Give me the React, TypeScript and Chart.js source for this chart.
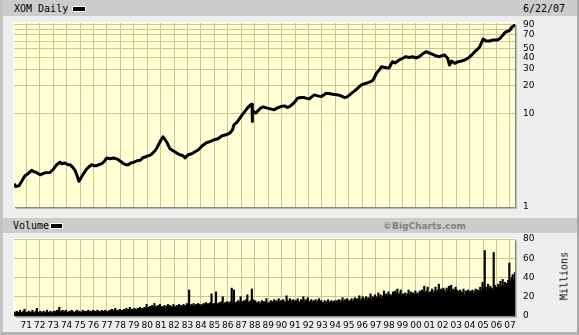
import React, { useEffect, useRef } from "react";
import { Chart, registerables } from "chart.js";

Chart.register(...registerables);

// ---- data ----
const PRICE_YEARS = [
  1970.09, 1970.23, 1970.46, 1970.68, 1970.9, 1971.13, 1971.4, 1971.57, 1971.77, 1972.02,
  1972.24, 1972.39, 1972.76, 1972.99, 1973.26, 1973.51, 1973.66, 1973.88, 1974.1, 1974.25,
  1974.48, 1974.63, 1974.78, 1974.92, 1975.13, 1975.3, 1975.5, 1975.67, 1975.87, 1976.04,
  1976.24, 1976.41, 1976.61, 1976.79, 1976.99, 1977.23, 1977.48, 1977.68, 1977.85, 1978.05,
  1978.22, 1978.42, 1978.59, 1978.8, 1978.97, 1979.24, 1979.47, 1979.69, 1979.96, 1980.21,
  1980.36, 1980.58, 1980.73, 1980.88, 1981.03, 1981.18, 1981.33, 1981.48, 1981.7, 1981.92,
  1982.2, 1982.44, 1982.67, 1982.82, 1983.04, 1983.32, 1983.56, 1983.81, 1984.1, 1984.4,
  1984.67, 1984.97, 1985.27, 1985.57, 1985.87, 1986.17, 1986.35, 1986.45, 1986.7, 1987.07,
  1987.3, 1987.45, 1987.69, 1987.8, 1987.81, 1987.84, 1988.07, 1988.44, 1988.64, 1988.94,
  1989.17, 1989.44, 1989.69, 1989.94, 1990.22, 1990.44, 1990.67, 1990.82, 1991.04, 1991.19,
  1991.44, 1991.69, 1991.87, 1992.07, 1992.24, 1992.44, 1992.69, 1992.94, 1993.15, 1993.32,
  1993.52, 1993.82, 1994.19, 1994.42, 1994.7, 1994.87, 1995.07, 1995.24, 1995.44, 1995.69,
  1995.94, 1996.14, 1996.44, 1996.59, 1996.82, 1997.06, 1997.27, 1997.44, 1997.81, 1998.0,
  1998.25, 1998.45, 1998.75, 1998.98, 1999.25, 1999.5, 1999.75, 2000.03, 2000.25, 2000.48,
  2000.75, 2001.0, 2001.25, 2001.53, 2001.75, 2001.98, 2002.13, 2002.35, 2002.5, 2002.65,
  2002.88, 2003.1, 2003.38, 2003.63, 2003.87, 2004.15, 2004.38, 2004.6, 2004.75, 2004.9,
  2005.0, 2005.2, 2005.5, 2005.73, 2006.0, 2006.18, 2006.3, 2006.48, 2006.63, 2006.85,
  2007.0, 2007.15, 2007.3, 2007.37,
];
const PRICE_VALUES = [
  1.76, 1.64, 1.68, 1.9, 2.15, 2.26, 2.45, 2.37, 2.33, 2.2,
  2.26, 2.31, 2.33, 2.49, 2.82, 3.01, 2.89, 2.94, 2.82, 2.82,
  2.62, 2.45, 2.15, 1.87, 2.11, 2.31, 2.54, 2.68, 2.82, 2.75,
  2.75, 2.82, 2.89, 3.04, 3.33, 3.27, 3.33, 3.27, 3.19, 3.04,
  2.89, 2.82, 2.82, 2.96, 2.98, 3.11, 3.14, 3.35, 3.46, 3.57,
  3.7, 3.98, 4.29, 4.73, 5.23, 5.63, 5.23, 4.85, 4.18, 3.98,
  3.76, 3.61, 3.52, 3.33, 3.61, 3.7, 3.89, 4.08, 4.5, 4.85,
  5.0, 5.23, 5.36, 5.77, 5.91, 6.21, 6.69, 7.57, 8.15, 9.69,
  10.69, 11.43, 12.4, 12.61, 8.21, 10.8, 10.1, 11.43, 11.8, 11.43,
  11.23, 10.96, 11.51, 11.89, 12.09, 11.6, 12.09, 12.61, 13.68, 14.63,
  14.84, 14.84, 14.55, 14.37, 15.1, 15.86, 15.48, 15.21, 15.86, 16.54,
  16.46, 16.14, 15.86, 15.48, 14.84, 15.1, 15.86, 16.67, 17.51, 18.86,
  20.3, 20.81, 21.49, 21.87, 22.97, 27.1, 29.4, 31.89, 31.12, 30.89,
  36.08, 34.94, 37.63, 39.05, 40.82, 40.03, 40.82, 39.54, 40.82, 43.64,
  46.18, 44.73, 43.32, 41.53, 40.82, 42.05, 42.58, 39.54, 33.27, 36.71,
  34.69, 35.83, 36.71, 37.63, 39.25, 42.58, 46.18, 49.37, 52.26, 58.7,
  63.19, 60.14, 60.14, 61.65, 61.65, 63.19, 65.27, 69.74, 74.57, 76.99,
  78.91, 84.99, 87.76, 91.5,
];

// Monthly volume in millions, twelve bars per year starting 1970
const VOLUME = [
  4, 3, 5, 4, 3, 6, 4, 3, 5, 7, 4, 3, // 1970
  4, 5, 3, 4, 6, 4, 3, 5, 8, 4, 3, 5, // 1971
  3, 4, 5, 3, 4, 6, 4, 3, 5, 4, 3, 5, // 1972
  5, 4, 6, 5, 9, 4, 5, 6, 4, 5, 6, 4, // 1973
  4, 5, 4, 6, 5, 4, 3, 5, 6, 4, 5, 4, // 1974
  4, 6, 4, 5, 4, 5, 6, 4, 5, 4, 6, 5, // 1975
  5, 4, 6, 5, 5, 4, 6, 5, 4, 6, 5, 4, // 1976
  5, 6, 5, 7, 5, 6, 8, 5, 6, 5, 7, 6, // 1977
  6, 5, 7, 6, 8, 6, 7, 9, 6, 7, 6, 8, // 1978
  7, 6, 8, 7, 9, 7, 8, 7, 9, 8, 12, 9, // 1979
  9, 10, 8, 11, 9, 13, 10, 9, 11, 10, 12, 9, // 1980
  10, 9, 11, 8, 10, 12, 9, 11, 10, 9, 12, 10, // 1981
  9, 11, 10, 12, 9, 11, 10, 12, 11, 10, 13, 11, // 1982
  27, 10, 12, 11, 13, 10, 12, 11, 13, 12, 10, 12, // 1983
  11, 13, 12, 14, 11, 13, 12, 14, 23, 12, 13, 11, // 1984
  25, 13, 12, 14, 13, 15, 20, 12, 14, 13, 15, 14, // 1985
  13, 15, 29, 14, 27, 13, 14, 15, 16, 14, 20, 15, // 1986
  14, 16, 15, 17, 22, 14, 15, 16, 28, 17, 15, 16, // 1987
  14, 13, 15, 12, 14, 16, 13, 15, 14, 18, 13, 14, // 1988
  14, 16, 13, 15, 17, 14, 16, 15, 18, 14, 16, 15, // 1989
  17, 15, 14, 21, 16, 15, 18, 14, 16, 17, 15, 16, // 1990
  16, 18, 15, 14, 17, 16, 20, 15, 17, 16, 19, 15, // 1991
  15, 17, 14, 16, 15, 17, 14, 16, 18, 15, 16, 14, // 1992
  14, 16, 13, 15, 17, 14, 15, 16, 14, 15, 16, 14, // 1993
  16, 15, 17, 14, 16, 19, 15, 17, 16, 18, 15, 16, // 1994
  16, 18, 15, 17, 19, 16, 18, 17, 21, 16, 18, 20, // 1995
  18, 17, 20, 16, 19, 18, 23, 17, 20, 19, 22, 18, // 1996
  20, 24, 19, 22, 18, 21, 26, 20, 23, 21, 25, 22, // 1997
  22, 20, 25, 21, 26, 23, 28, 22, 24, 27, 21, 23, // 1998
  21, 24, 20, 23, 27, 22, 25, 21, 24, 22, 26, 23, // 1999
  24, 22, 26, 23, 27, 25, 31, 24, 26, 30, 23, 25, // 2000
  25, 28, 23, 26, 30, 25, 27, 33, 24, 28, 26, 29, // 2001
  27, 24, 29, 26, 31, 25, 32, 27, 28, 26, 30, 27, // 2002
  26, 23, 27, 25, 24, 28, 22, 26, 25, 27, 23, 26, // 2003
  25, 27, 23, 26, 28, 24, 27, 25, 30, 26, 35, 28, // 2004
  68, 30, 27, 33, 28, 31, 29, 27, 66, 32, 30, 29, // 2005
  33, 30, 36, 31, 38, 32, 35, 30, 34, 37, 55, 36, // 2006
  40, 43, 38, 45, // 2007
];
const VOL_FIRST_YEAR = 1970.12;
const VOL_BARS_PER_YEAR = 12;

const YEAR_TICKS = [
  1971, 1972, 1973, 1974, 1975, 1976, 1977, 1978, 1979, 1980, 1981, 1982, 1983,
  1984, 1985, 1986, 1987, 1988, 1989, 1990, 1991, 1992, 1993, 1994, 1995, 1996,
  1997, 1998, 1999, 2000, 2001, 2002, 2003, 2004, 2005, 2006, 2007,
];
const YEAR_LABELS = [
  "71", "72", "73", "74", "75", "76", "77", "78", "79", "80", "81", "82", "83",
  "84", "85", "86", "87", "88", "89", "90", "91", "92", "93", "94", "95", "96",
  "97", "98", "99", "00", "01", "02", "03", "04", "05", "06", "07",
];
const PRICE_TICKS = [1, 10, 20, 30, 40, 50, 60, 70, 80, 90];
const PRICE_LABELED = [1, 10, 20, 30, 40, 50, 70, 90];
const VOLUME_TICKS = [0, 20, 40, 60, 80];

const X_MIN = 1970.085;
const X_MAX = 2007.373;
const GRID = "#C9C98F";
const TICK_FONT = { family: "'DejaVu Sans', Verdana, sans-serif", size: 9 };
const PLOT_BG =
  "repeating-conic-gradient(#FFFFC4 0% 25%, #FFFFE8 0% 50%) 0 0 / 2px 2px";

export default function App() {
  const mainRef = useRef<HTMLCanvasElement | null>(null);
  const volRef = useRef<HTMLCanvasElement | null>(null);

  useEffect(() => {
    const main = new Chart(mainRef.current as HTMLCanvasElement, {
      type: "line",
      data: {
        datasets: [
          {
            data: PRICE_YEARS.map((x, i) => ({ x, y: PRICE_VALUES[i] })),
            borderColor: "#000",
            borderWidth: 3,
            pointRadius: 0,
            tension: 0,
            fill: false,
            borderJoinStyle: "round",
          },
        ],
      },
      options: {
        responsive: false,
        animation: false,
        layout: { padding: { left: 14, top: 23, right: 0, bottom: 13 } },
        plugins: { legend: { display: false }, tooltip: { enabled: false } },
        scales: {
          x: {
            type: "linear",
            min: X_MIN,
            max: X_MAX,
            afterBuildTicks: (s: any) => {
              s.ticks = YEAR_TICKS.map((v) => ({ value: v }));
            },
            afterFit: (s: any) => {
              s.height = 0;
            },
            ticks: { display: false },
            grid: { color: GRID, drawTicks: false },
            border: { display: false },
          },
          y: {
            type: "logarithmic",
            position: "right",
            min: 1,
            max: 94,
            afterBuildTicks: (s: any) => {
              s.ticks = PRICE_TICKS.map((v) => ({ value: v }));
            },
            afterFit: (s: any) => {
              s.width = 64;
            },
            ticks: {
              autoSkip: false,
              padding: 8,
              color: "#000",
              font: TICK_FONT,
              callback: (v: any) => (PRICE_LABELED.includes(Number(v)) ? String(v) : ""),
            },
            grid: {
              drawTicks: false,
              color: (c: any) => (c.tick && c.tick.value === 1 ? "rgba(0,0,0,0)" : GRID),
            },
            border: { display: false },
          },
        },
      },
    });

    const vol = new Chart(volRef.current as HTMLCanvasElement, {
      type: "bar",
      data: {
        datasets: [
          {
            data: VOLUME.map((v, i) => ({ x: VOL_FIRST_YEAR + i / VOL_BARS_PER_YEAR, y: v })),
            backgroundColor: "#000",
            borderWidth: 0,
            barThickness: 1.5,
          },
        ],
      },
      options: {
        responsive: false,
        animation: false,
        layout: { padding: { left: 14, top: 19, right: 0, bottom: 0 } },
        plugins: { legend: { display: false }, tooltip: { enabled: false } },
        scales: {
          x: {
            type: "linear",
            min: X_MIN,
            max: X_MAX,
            offset: false,
            afterBuildTicks: (s: any) => {
              s.ticks = YEAR_TICKS.map((v) => ({ value: v }));
            },
            afterFit: (s: any) => {
              s.height = 19;
            },
            ticks: {
              autoSkip: false,
              maxRotation: 0,
              minRotation: 0,
              padding: 4,
              color: "#000",
              font: TICK_FONT,
              callback: (_v: any, i: number) => YEAR_LABELS[i],
            },
            grid: { color: GRID, drawTicks: false, offset: false },
            border: { display: false },
          },
          y: {
            position: "right",
            min: 0,
            max: 80,
            afterBuildTicks: (s: any) => {
              s.ticks = VOLUME_TICKS.map((v) => ({ value: v }));
            },
            afterFit: (s: any) => {
              s.width = 64;
            },
            ticks: { autoSkip: false, padding: 8, color: "#000", font: TICK_FONT },
            grid: {
              drawTicks: false,
              color: (c: any) => (c.tick && c.tick.value === 0 ? "rgba(0,0,0,0)" : GRID),
            },
            border: { display: false },
          },
        },
      },
    });

    return () => {
      main.destroy();
      vol.destroy();
    };
  }, []);

  const mono = "'DejaVu Sans Mono', 'Liberation Mono', monospace";

  return (
    <div
      style={{
        position: "fixed",
        left: 0,
        top: 0,
        width: 579,
        height: 335,
        background: "#EEEEEE",
        overflow: "hidden",
        boxSizing: "border-box",
        borderLeft: "3px solid #C4C4C4",
        borderRight: "2px solid #A8A8A8",
        borderBottom: "3px solid #B4B4B4",
      }}
    >
      {/* top header bar */}
      <div
        style={{
          position: "absolute",
          left: -3,
          top: 0,
          width: 579,
          height: 16,
          background: "#CCCCCC",
        }}
      />
      <div
        style={{
          position: "absolute",
          left: 11,
          top: 2,
          font: `10px ${mono}`,
          lineHeight: "14px",
          color: "#000",
          whiteSpace: "nowrap",
        }}
      >
        XOM Daily
      </div>
      <div
        style={{
          position: "absolute",
          left: 69,
          top: 6,
          width: 12,
          height: 4,
          background: "#000",
          border: "1px solid #fff",
        }}
      />
      <div
        style={{
          position: "absolute",
          left: 520,
          top: 2,
          font: `10px ${mono}`,
          lineHeight: "14px",
          color: "#000",
          whiteSpace: "nowrap",
        }}
      >
        6/22/07
      </div>

      {/* main plot background */}
      <div
        style={{
          position: "absolute",
          left: 11,
          top: 23,
          width: 501,
          height: 184,
          background: PLOT_BG,
          boxShadow: "-1px -1px 0 #fff, 1px 1px 0 #8A8A8A, 2px 2px 0 #B8B8B8",
        }}
      />

      {/* volume header bar */}
      <div
        style={{
          position: "absolute",
          left: -3,
          top: 218,
          width: 579,
          height: 15,
          background: "#CCCCCC",
        }}
      />
      <div
        style={{
          position: "absolute",
          left: 10,
          top: 219,
          font: `10px ${mono}`,
          lineHeight: "14px",
          color: "#000",
          whiteSpace: "nowrap",
        }}
      >
        Volume
      </div>
      <div
        style={{
          position: "absolute",
          left: 47,
          top: 223,
          width: 11,
          height: 4,
          background: "#000",
          border: "1px solid #fff",
        }}
      />
      <div
        style={{
          position: "absolute",
          right: 111,
          top: 219,
          font: "bold 9px 'DejaVu Sans', Verdana, sans-serif",
          lineHeight: "14px",
          color: "#808080",
          whiteSpace: "nowrap",
        }}
      >
        ©BigCharts.com
      </div>

      {/* volume plot background */}
      <div
        style={{
          position: "absolute",
          left: 11,
          top: 239,
          width: 501,
          height: 77,
          background: PLOT_BG,
          boxShadow: "-1px -1px 0 #fff, 1px 1px 0 #8A8A8A, 2px 2px 0 #B8B8B8",
        }}
      />

      <canvas
        ref={mainRef}
        width={579}
        height={220}
        style={{ position: "absolute", left: -3, top: 0 }}
      />
      <canvas
        ref={volRef}
        width={579}
        height={115}
        style={{ position: "absolute", left: -3, top: 220 }}
      />

      <div
        style={{
          position: "absolute",
          left: 561,
          top: 276,
          font: `10px ${mono}`,
          color: "#000",
          whiteSpace: "nowrap",
          transform: "translate(-50%, -50%) rotate(-90deg)",
        }}
      >
        Millions
      </div>
    </div>
  );
}
